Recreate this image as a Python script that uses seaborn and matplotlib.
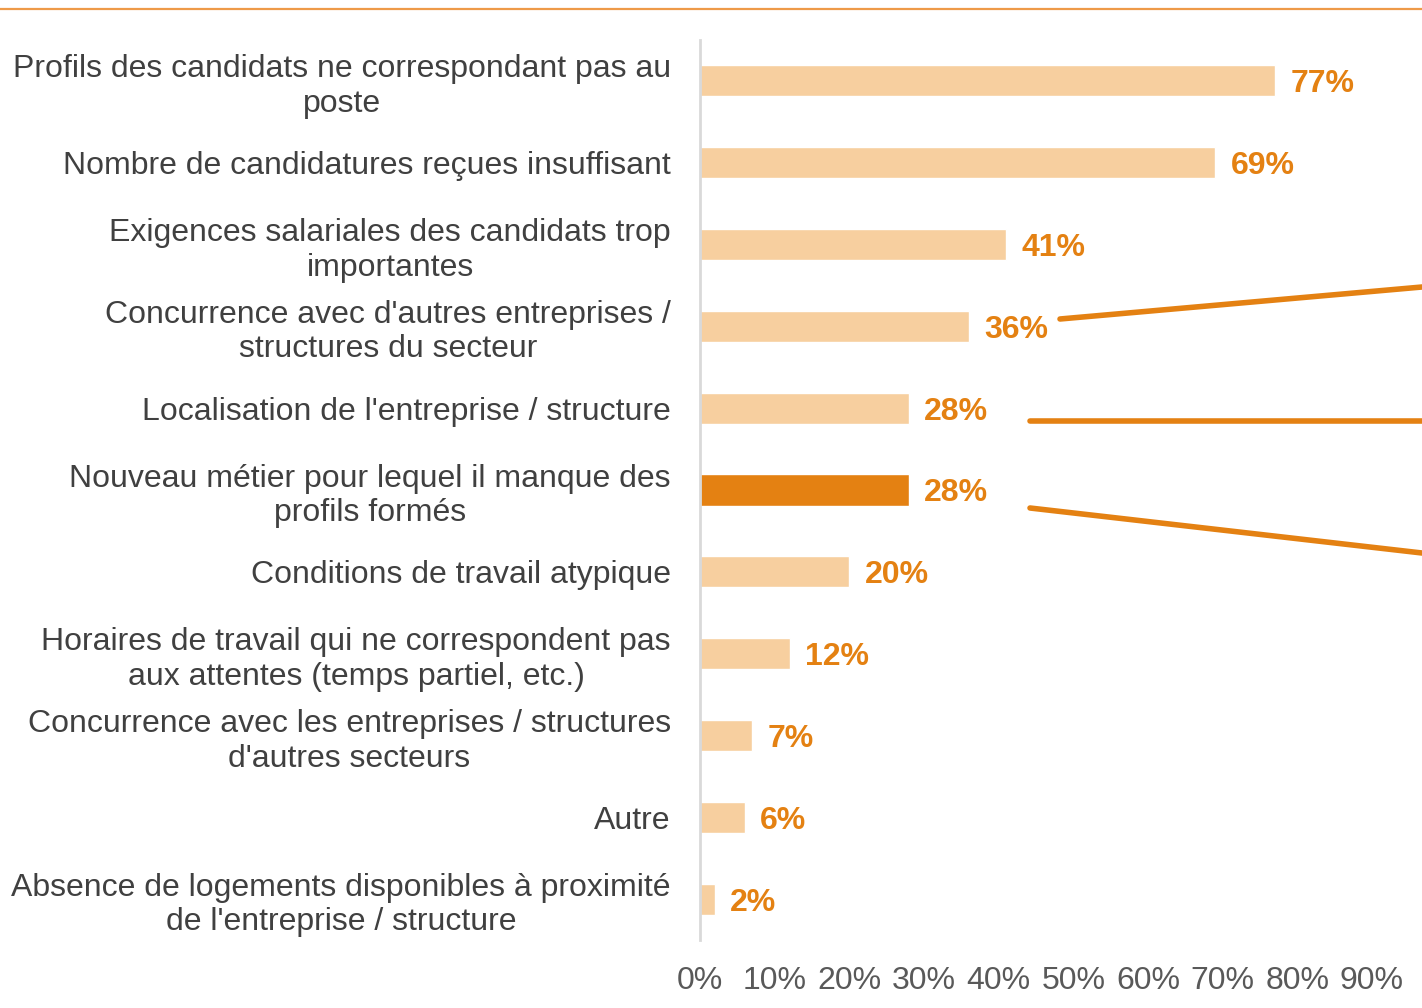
import matplotlib
matplotlib.use("Agg")
import matplotlib.pyplot as plt
import seaborn as sns
from matplotlib.lines import Line2D
from matplotlib.ticker import FuncFormatter

categories = [
    "Profils des candidats ne correspondant pas au\nposte",
    "Nombre de candidatures reçues insuffisant",
    "Exigences salariales des candidats trop\nimportantes",
    "Concurrence avec d'autres entreprises /\nstructures du secteur",
    "Localisation de l'entreprise / structure",
    "Nouveau métier pour lequel il manque des\nprofils formés",
    "Conditions de travail atypique",
    "Horaires de travail qui ne correspondent pas\naux attentes (temps partiel, etc.)",
    "Concurrence avec les entreprises / structures\nd'autres secteurs",
    "Autre",
    "Absence de logements disponibles à proximité\nde l'entreprise / structure",
]
values = [77, 69, 41, 36, 28, 28, 20, 12, 7, 6, 2]
highlight = "Nouveau métier pour lequel il manque des\nprofils formés"

light = "#F7CF9F"
dark = "#E48112"
label_col = "#E48112"
text_col = "#404040"
tick_col = "#595959"

sns.set_theme(style="white")
plt.rcParams["font.family"] = ["Liberation Sans", "DejaVu Sans"]

fig = plt.figure(figsize=(14.22, 10.08), dpi=100)
ax = fig.add_axes([700 / 1422, 1 - 940 / 1008, 1 - 700 / 1422, 900 / 1008])

palette = {c: (dark if c == highlight else light) for c in categories}
sns.barplot(x=values, y=categories, hue=categories, palette=palette,
            orient="h", width=0.38, legend=False, saturation=1, ax=ax)

# value labels next to each bar
for bar in ax.patches:
    w = bar.get_width()
    ax.annotate(f"{w:.0f}%", xy=(w, bar.get_y() + bar.get_height() / 2),
                xytext=(11, -2.5), textcoords="offset points",
                va="center", ha="left", color=label_col,
                fontsize=23, fontweight="bold")

ax.set_xlim(0, 96.7)
ax.set_xticks(range(0, 100, 10))
ax.xaxis.set_major_formatter(FuncFormatter(lambda x, p: f"{x:.0f}%"))
ax.set_ylim(10.5, -0.5)
ax.set_xlabel("")
ax.set_ylabel("")

for s in ["top", "right", "bottom"]:
    ax.spines[s].set_visible(False)
ax.spines["left"].set_color("#D9D9D9")
ax.spines["left"].set_linewidth(2)

ax.tick_params(axis="y", length=0, pad=21, labelsize=23, labelcolor=text_col)
ax.tick_params(axis="x", length=0, pad=19, labelsize=23, labelcolor=tick_col)
for lab in ax.get_yticklabels():
    lab.set_multialignment("center")
    lab.set_linespacing(1.2)

# decorative lines
H = 1008
W = 1422
fig.add_artist(Line2D([0, 1], [1 - 9 / H, 1 - 9 / H], color="#EE9A48", lw=1.6))
fig.add_artist(Line2D([1060 / W, 1], [1 - 319 / H, 1 - 287 / H], color=dark, lw=4))
fig.add_artist(Line2D([1030 / W, 1], [1 - 421 / H, 1 - 421 / H], color=dark, lw=4))
fig.add_artist(Line2D([1030 / W, 1], [1 - 508 / H, 1 - 553 / H], color=dark, lw=4))

fig.savefig("out.png", dpi=100)
